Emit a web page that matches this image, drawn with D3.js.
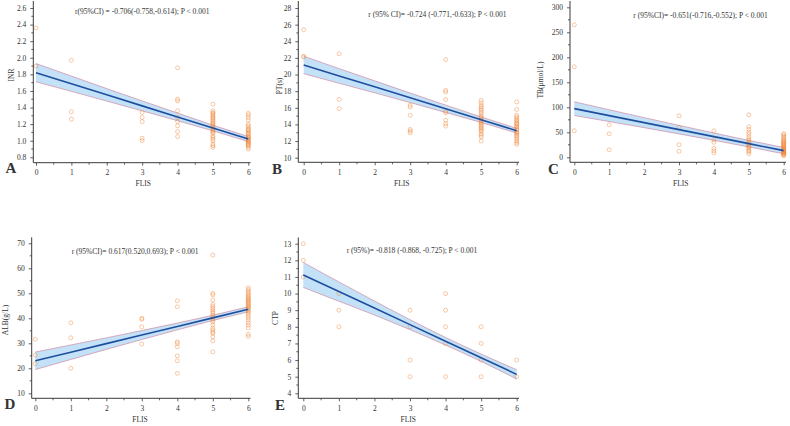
<!DOCTYPE html>
<html><head><meta charset="utf-8">
<script src="https://cdn.jsdelivr.net/npm/d3@7/dist/d3.min.js"></script>
<style>
html,body{margin:0;padding:0;background:#fff;}
svg{display:block;}
text{font-family:"Liberation Serif","Times New Roman",serif;fill:#333;}
</style></head>
<body>
<svg id="chart" width="790" height="426"></svg>
<script>
// ---------------- DATA ----------------
const flisLevels = [0, 1, 3, 4, 5, 6];
const fitX = [0, 1, 2, 3, 4, 5, 6];

// Panel A: INR
const inrValues = [
  [2.36, 1.90],
  [1.97, 1.35, 1.26],
  [1.34, 1.28, 1.23, 1.03, 1.00],
  [1.88, 1.50, 1.48, 1.36, 1.28, 1.23, 1.18, 1.11, 1.05],
  [1.44, 1.36, 1.34, 1.33, 1.31, 1.30, 1.28, 1.27, 1.25, 1.24, 1.22, 1.21, 1.19, 1.18, 1.16, 1.15, 1.13, 1.12, 1.10, 1.09, 1.06, 1.04, 1.02, 1.00, 0.96, 0.94, 0.92],
  [1.33, 1.31, 1.28, 1.25, 1.20, 1.18, 1.16, 1.14, 1.13, 1.12, 1.10, 1.09, 1.08, 1.06, 1.05, 1.04, 1.03, 1.02, 1.01, 1.00, 0.99, 0.98, 0.97, 0.96, 0.95, 0.94, 0.92, 0.90]
];
const inrFit = [1.82, 1.687, 1.553, 1.42, 1.287, 1.153, 1.02];
const inrHalfCI = [0.11, 0.092, 0.075, 0.06, 0.046, 0.034, 0.03];

// Panel B: PT(s)
const ptValues = [
  [25.4, 22.2, 22.1],
  [22.5, 17.0, 15.9],
  [16.3, 16.1, 15.1, 13.4, 13.2, 13.0],
  [21.8, 18.1, 17.9, 17.0, 15.6, 15.4, 14.5, 14.1, 13.8],
  [16.9, 16.6, 16.3, 16.1, 15.9, 15.7, 15.5, 15.3, 15.0, 14.9, 14.7, 14.5, 14.4, 14.2, 14.1, 13.9, 13.8, 13.6, 13.5, 13.3, 13.2, 12.9, 12.7, 12.5, 12.0],
  [16.7, 15.8, 15.1, 14.9, 14.7, 14.5, 14.4, 14.2, 14.1, 14.0, 13.8, 13.7, 13.5, 13.4, 13.3, 13.1, 13.0, 12.9, 12.7, 12.6, 12.4, 12.2, 12.0, 11.8, 11.6]
];
const ptFit = [21.15, 19.83, 18.52, 17.2, 15.88, 14.57, 13.25];
const ptHalfCI = [1.05, 0.88, 0.72, 0.57, 0.44, 0.33, 0.28];

// Panel C: TB(umol/L)
const tbValues = [
  [265, 181, 53],
  [65, 47, 15],
  [83, 60, 25, 12],
  [53, 35, 30, 18, 13, 9],
  [85, 61, 56, 50, 46, 41, 37, 34, 31, 28, 26, 24, 21, 19, 16, 13, 11, 7],
  [47, 45, 42, 40, 37, 35, 33, 31, 30, 28, 27, 25, 24, 22, 21, 20, 18, 17, 16, 15, 14, 13, 12, 11, 10, 9, 8, 7, 6, 5, 3]
];
const tbFit = [97.3, 83.3, 69.3, 55.3, 41.3, 27.3, 13.3];
const tbHalfCI = [13.7, 11.8, 10.0, 8.5, 7.3, 6.5, 6.3];

// Panel D: ALB(g/L)
const albValues = [
  [31.6, 25.3, 21.8],
  [38.2, 32.2, 20.0],
  [40.0, 39.6, 36.6, 29.7],
  [47.0, 44.6, 30.6, 30.0, 28.6, 25.0, 23.0, 18.0],
  [65.3, 50.0, 49.4, 47.3, 45.5, 44.8, 44.0, 43.3, 42.6, 42.0, 41.2, 40.5, 40.0, 39.2, 38.5, 37.3, 36.0, 35.3, 34.5, 34.0, 32.6, 31.0, 26.6],
  [52.2, 51.5, 50.8, 50.2, 49.6, 49.0, 48.5, 48.0, 47.6, 47.2, 46.8, 46.4, 46.0, 45.6, 45.2, 44.8, 44.4, 44.0, 43.5, 43.0, 42.5, 41.8, 41.0, 40.2, 39.3, 38.2, 37.3, 36.2, 33.6, 32.8]
];
const albFit = [23.0, 26.43, 29.87, 33.3, 36.73, 40.17, 43.6];
const albHalfCI = [3.5, 2.9, 2.3, 1.8, 1.35, 1.05, 1.0];

// Panel E: CTP
const ctpValues = [
  [13, 12, 11],
  [10, 9, 8],
  [9, 8, 6, 5],
  [10, 9, 8, 7, 5],
  [8, 7, 6, 5],
  [6, 5]
];
const ctpFit = [11.12, 10.12, 9.13, 8.13, 7.13, 6.14, 5.14];
const ctpHalfCI = [0.75, 0.58, 0.42, 0.30, 0.23, 0.22, 0.28];

const xTicks = [0, 1, 2, 3, 4, 5, 6];
const inrTicks = [0.8, 1.0, 1.2, 1.4, 1.6, 1.8, 2.0, 2.2, 2.4, 2.6];
const ptTicks = [10, 12, 14, 16, 18, 20, 22, 24, 26, 28];
const tbTicks = [0, 50, 100, 150, 200, 250, 300];
const albTicks = [10, 20, 30, 40, 50, 60, 70];
const ctpTicks = [4, 5, 6, 7, 8, 9, 10, 11, 12, 13];

const panelLetters = ["A", "B", "C", "D", "E"];
const yTitles = ["INR", "PT(s)", "TB(μmol/L)", "ALB(g/L)", "CTP"];
const xTitle = "FLIS";
const annotations = [
  "r(95%CI) = -0.706(-0.758,-0.614); P < 0.001",
  "r (95% CI)= -0.724 (-0.771,-0.633); P < 0.001",
  "r (95%CI)= -0.651(-0.716,-0.552); P < 0.001",
  "r (95%CI)= 0.617(0.520,0.693); P < 0.001",
  "r (95%)= -0.818 (-0.868, -0.725); P < 0.001"
];

// ---------------- LAYOUT ----------------
const layouts = [
  {axisX:33.3, xAxisY:162.7, x0:36, x6:248.3, xEnd:250.5, yTop:1, yBotPx:157.3, yTopPx:8,
   yTitle:[11.7,75], xTitle:[143.3,183.3], letter:[5.5,173], ann:[75,13.5], minorY:0.1},
  {axisX:298.3, xAxisY:162.3, x0:303.7, x6:516.7, xEnd:519, yTop:1, yBotPx:157.7, yTopPx:8,
   yTitle:[279,86], xTitle:[401.7,183.5], letter:[272,173.5], ann:[368.3,16.5], minorY:1},
  {axisX:570, xAxisY:162.3, x0:574.3, x6:783.7, xEnd:786, yTop:1, yBotPx:157.3, yTopPx:7.3,
   yTitle:[540,80], xTitle:[680.7,183.5], letter:[548,173.5], ann:[633.3,17.5], minorY:25},
  {axisX:31.7, xAxisY:398.3, x0:35.3, x6:248.3, xEnd:250.5, yTop:237.3, yBotPx:393.3, yTopPx:243.3,
   yTitle:[5.5,320], xTitle:[140,419.3], letter:[4.5,409.3], ann:[71.7,254], minorY:5},
  {axisX:298.3, xAxisY:398.3, x0:303.3, x6:516.7, xEnd:519, yTop:237.5, yBotPx:393.3, yTopPx:243.7,
   yTitle:[275,318], xTitle:[408.3,419.3], letter:[275,409.5], ann:[346.7,253], minorY:0.5}
];

const panels = [
  {values: inrValues, fit: inrFit, hw: inrHalfCI, ticks: inrTicks, fmt: d3.format(".1f")},
  {values: ptValues, fit: ptFit, hw: ptHalfCI, ticks: ptTicks, fmt: d3.format("d")},
  {values: tbValues, fit: tbFit, hw: tbHalfCI, ticks: tbTicks, fmt: d3.format("d")},
  {values: albValues, fit: albFit, hw: albHalfCI, ticks: albTicks, fmt: d3.format("d")},
  {values: ctpValues, fit: ctpFit, hw: ctpHalfCI, ticks: ctpTicks, fmt: d3.format("d")}
];

const svg = d3.select("#chart");
const axisColor = "#3a3a3a";

panels.forEach((p, i) => {
  const L = layouts[i];
  const g = svg.append("g");
  const x = d3.scaleLinear().domain([0, 6]).range([L.x0, L.x6]);
  const yMin = p.ticks[0], yMax = p.ticks[p.ticks.length - 1];
  const y = d3.scaleLinear().domain([yMin, yMax]).range([L.yBotPx, L.yTopPx]);

  // CI band
  const band = fitX.map((xv, k) => ({x: xv, lo: p.fit[k] - p.hw[k], hi: p.fit[k] + p.hw[k], m: p.fit[k]}));
  g.append("path").datum(band)
    .attr("d", d3.area().x(d => x(d.x)).y0(d => y(d.lo)).y1(d => y(d.hi)).curve(d3.curveMonotoneX))
    .attr("fill", "#c4e2f7");
  ["lo", "hi"].forEach(k => {
    g.append("path").datum(band)
      .attr("d", d3.line().x(d => x(d.x)).y(d => y(d[k])).curve(d3.curveMonotoneX))
      .attr("fill", "none").attr("stroke", "#d08aa4").attr("stroke-width", 0.7);
  });

  // points
  const pts = [];
  p.values.forEach((arr, gi) => arr.forEach(v => pts.push({x: flisLevels[gi], y: v})));
  g.append("g").selectAll("circle").data(pts).join("circle")
    .attr("cx", d => x(d.x)).attr("cy", d => y(d.y)).attr("r", 2)
    .attr("fill", "none").attr("stroke", "#ee8636").attr("stroke-opacity", 0.55).attr("stroke-width", 0.8);

  // fit line
  g.append("path").datum(band)
    .attr("d", d3.line().x(d => x(d.x)).y(d => y(d.m)))
    .attr("fill", "none").attr("stroke", "#1f4e9e").attr("stroke-width", 1.6);

  // axes
  const yAxis = g.append("g").attr("transform", `translate(${L.axisX},0)`)
    .call(d3.axisLeft(y).tickValues(p.ticks).tickFormat(p.fmt).tickSize(3).tickSizeOuter(0).tickPadding(4));
  const minorYs = d3.range(yMin, yMax + 1e-9, L.minorY).filter(v => !p.ticks.some(t => Math.abs(t - v) < 1e-9));
  yAxis.selectAll(".minor").data(minorYs).join("line").attr("class", "minor")
    .attr("x1", 0).attr("x2", -2).attr("y1", d => y(d)).attr("y2", d => y(d)).attr("stroke", axisColor).attr("stroke-width", 0.8);

  const xAxis = g.append("g").attr("transform", `translate(0,${L.xAxisY})`)
    .call(d3.axisBottom(x).tickValues(xTicks).tickFormat(d3.format("d")).tickSize(3).tickSizeOuter(0).tickPadding(4));
  const minorXs = d3.range(0.5, 6, 1);
  xAxis.selectAll(".minor").data(minorXs).join("line").attr("class", "minor")
    .attr("y1", 0).attr("y2", 2).attr("x1", d => x(d)).attr("x2", d => x(d)).attr("stroke", axisColor).attr("stroke-width", 0.8);

  [yAxis, xAxis].forEach(a => {
    a.select(".domain").remove();
    a.selectAll(".tick line").attr("stroke", axisColor).attr("stroke-width", 0.8);
    a.selectAll(".tick text").attr("font-size", 7.5).attr("fill", "#333")
      .style("font-family", '"Liberation Serif","Times New Roman",serif');
  });
  g.append("line").attr("x1", L.axisX).attr("x2", L.axisX).attr("y1", L.yTop).attr("y2", L.xAxisY)
    .attr("stroke", axisColor).attr("stroke-width", 1);
  g.append("line").attr("x1", L.axisX).attr("x2", L.xEnd).attr("y1", L.xAxisY).attr("y2", L.xAxisY)
    .attr("stroke", axisColor).attr("stroke-width", 1);

  // titles
  g.append("text").attr("x", L.xTitle[0]).attr("y", L.xTitle[1]).attr("text-anchor", "middle")
    .attr("dominant-baseline", "central").attr("font-size", 7.5).text(xTitle);
  g.append("text").attr("transform", `translate(${L.yTitle[0]},${L.yTitle[1]}) rotate(-90)`)
    .attr("text-anchor", "middle").attr("dominant-baseline", "central").attr("font-size", 7.5).text(yTitles[i]);
  g.append("text").attr("x", L.ann[0]).attr("y", L.ann[1]).attr("font-size", 7.5).text(annotations[i]);
  g.append("text").attr("x", L.letter[0]).attr("y", L.letter[1]).attr("font-size", 15)
    .attr("font-weight", "bold").attr("fill", "#111").text(panelLetters[i]);
});
</script>
</body></html>
